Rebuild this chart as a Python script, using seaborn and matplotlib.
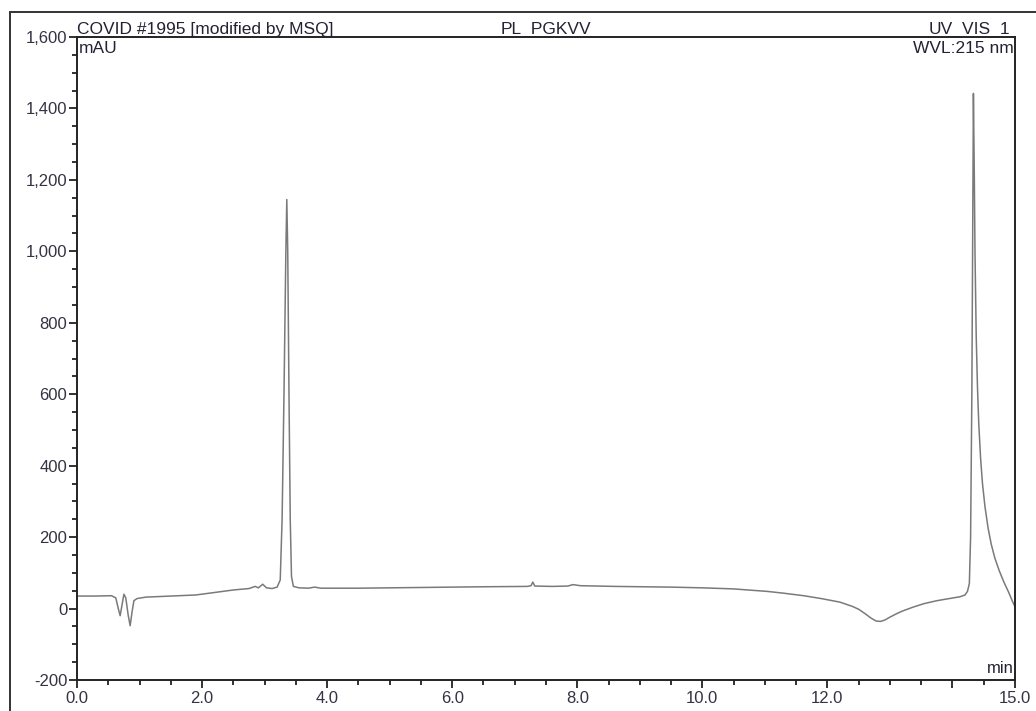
import numpy as np
import pandas as pd
import matplotlib
matplotlib.use("Agg")
import matplotlib.pyplot as plt
import matplotlib.ticker as mticker
from matplotlib.patches import Rectangle
import seaborn as sns

# 크로마토그램 값
time_min = [0.00, 0.30, 0.55, 0.62, 0.66, 0.69, 0.72, 0.75, 0.78, 0.82, 0.85, 0.88, 0.91, 0.96,
            1.10, 1.50, 1.90, 2.20, 2.50, 2.75, 2.85, 2.90, 2.97, 3.03, 3.12, 3.20, 3.25, 3.28,
            3.31, 3.34, 3.355, 3.37, 3.39, 3.41, 3.43, 3.46, 3.55, 3.70, 3.80, 3.90, 4.50, 5.50,
            6.50, 7.20, 7.26, 7.29, 7.32, 7.60, 7.85, 7.93, 8.05, 8.60, 9.50, 10.00, 10.50, 11.04,
            11.30, 11.62, 11.90, 12.20, 12.30, 12.40, 12.50, 12.60, 12.70, 12.78, 12.85, 12.92,
            13.00, 13.10, 13.20, 13.37, 13.55, 13.75, 13.95, 14.12, 14.20, 14.24, 14.27,
            14.29, 14.31, 14.325, 14.335, 14.35, 14.36, 14.38, 14.40, 14.42, 14.45, 14.48, 14.52,
            14.57, 14.62, 14.68, 14.75, 14.82, 14.90, 14.96, 15.00]
signal_mau = [35, 35, 36, 30, 0, -20, 10, 40, 30, -20, -48, -10, 22, 28,
              32, 35, 38, 45, 52, 56, 62, 58, 68, 58, 56, 60, 80, 250,
              600, 1000, 1145, 1000, 600, 250, 90, 62, 58, 57, 60, 57, 57, 59,
              61, 62, 64, 74, 63, 62, 63, 67, 64, 62, 60, 58, 55, 48,
              43, 36, 28, 18, 12, 6, -2, -14, -27, -35, -36, -32,
              -24, -15, -7, 4, 14, 22, 28, 33, 38, 48, 70,
              200, 600, 1100, 1442, 1200, 1000, 760, 620, 520, 420, 350, 285,
              225, 180, 140, 105, 75, 45, 20, 5]

y_ticks = [-200, 0, 200, 400, 600, 800, 1000, 1200, 1400, 1600]
x_ticks = [0, 2, 4, 6, 8, 10, 12, 14, 15]
x_labels = ["0.0", "2.0", "4.0", "6.0", "8.0", "10.0", "12.0", "", "15.0"]

df = pd.DataFrame({"time": time_min, "mAU": signal_mau})

sns.set_style("ticks")
plt.rcParams["font.family"] = ["Liberation Sans", "DejaVu Sans"]

fig = plt.figure(figsize=(10.36, 7.11), dpi=100)
ax = fig.add_axes([77 / 1036, 31 / 711, 938 / 1036, 643 / 711])

sns.lineplot(data=df, x="time", y="mAU", ax=ax, color="#7a7a7a", linewidth=1.1, sort=False)

ax.set_xlim(0, 15)
ax.set_ylim(-200, 1600)
ax.set_xticks(x_ticks)
ax.set_xticklabels(x_labels)
ax.set_yticks(y_ticks)
ax.yaxis.set_major_formatter(mticker.FuncFormatter(lambda v, p: f"{int(v):,}"))
ax.xaxis.set_minor_locator(mticker.MultipleLocator(0.5))
ax.yaxis.set_minor_locator(mticker.MultipleLocator(50))
ax.tick_params(which="major", direction="out", length=6, width=1.3, color="#222222",
               labelsize=12, labelcolor="#333344", pad=1)
ax.tick_params(axis="x", which="major", pad=2)
ax.tick_params(which="minor", direction="out", length=3.5, width=1.3, color="#222222")
ax.set_xlabel("")
ax.set_ylabel("")
for s in ax.spines.values():
    s.set_linewidth(1.4)
    s.set_color("#222222")

# 바깥 테두리
fig.add_artist(Rectangle((9.5 / 1036, -0.1), 1.2, (711 - 12) / 711 + 0.1,
                         transform=fig.transFigure, fill=False, lw=1.4, ec="#333333"))

# 제목 텍스트
ax.text(0.0, 1.0, "COVID #1995 [modified by MSQ]", transform=ax.transAxes,
        ha="left", va="bottom", fontsize=12.5, color="#222233")
ax.text(0.5, 1.0, "PL_PGKVV", transform=ax.transAxes,
        ha="center", va="bottom", fontsize=12.5, color="#222233")
ax.text(0.995, 1.0, "UV_VIS_1", transform=ax.transAxes,
        ha="right", va="bottom", fontsize=12.5, color="#222233")
ax.text(0.002, 0.994, "mAU", transform=ax.transAxes,
        ha="left", va="top", fontsize=12.5, color="#222233")
ax.text(0.999, 0.994, "WVL:215 nm", transform=ax.transAxes,
        ha="right", va="top", fontsize=12.5, color="#222233")
ax.text(0.999, 0.006, "min", transform=ax.transAxes,
        ha="right", va="bottom", fontsize=12, color="#222233")

fig.savefig("out.png", dpi=100)
